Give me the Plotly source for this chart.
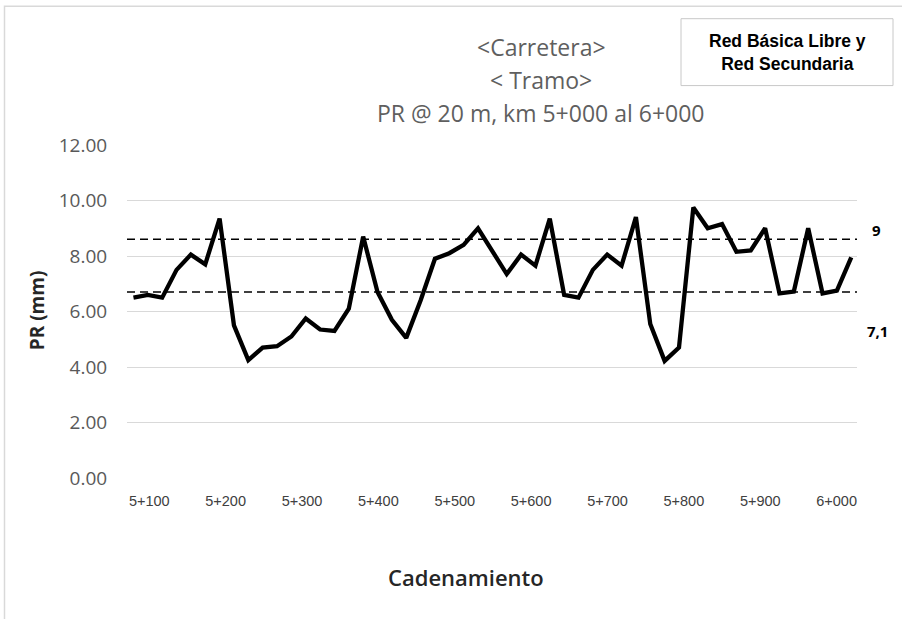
import plotly.graph_objects as go

# ---------------- data ----------------
chainage_m = [5000, 5020, 5040, 5060, 5080, 5100, 5120, 5140, 5160, 5180,
              5200, 5220, 5240, 5260, 5280, 5300, 5320, 5340, 5360, 5380,
              5400, 5420, 5440, 5460, 5480, 5500, 5520, 5540, 5560, 5580,
              5600, 5620, 5640, 5660, 5680, 5700, 5720, 5740, 5760, 5780,
              5800, 5820, 5840, 5860, 5880, 5900, 5920, 5940, 5960, 5980,
              6000]
pr_mm = [6.5, 6.6, 6.5, 7.5, 8.05, 7.7, 9.35, 5.5, 4.25, 4.7,
         4.75, 5.1, 5.75, 5.35, 5.3, 6.1, 8.7, 6.7, 5.7, 5.05,
         6.4, 7.9, 8.1, 8.4, 9.0, 8.2, 7.35, 8.05, 7.65, 9.35,
         6.6, 6.5, 7.5, 8.05, 7.65, 9.4, 5.55, 4.22, 4.7, 9.75,
         9.0, 9.15, 8.15, 8.2, 9.0, 6.65, 6.72, 9.0, 6.65, 6.75,
         7.95]
upper_limit = 8.6
lower_limit = 6.7
upper_label = "9"
lower_label = "7,1"
x_tick_labels = ["5+100", "5+200", "5+300", "5+400", "5+500",
                 "5+600", "5+700", "5+800", "5+900", "6+000"]
y_tick_values = [0, 2, 4, 6, 8, 10, 12]
title_lines = ["&lt;Carretera&gt;", "&lt; Tramo&gt;", "PR @ 20 m, km 5+000 al 6+000"]
legend_text = "Red Básica Libre y<br>Red Secundaria"
x_title = "Cadenamiento"
y_title = "PR (mm)"

# ---------------- layout geometry (pixels) ----------------
W, H = 902, 619
L, R, T, B = 127, 857, 144.5, 478
x_min, x_max = 4991, 6008


def px(xp):
    return (xp - L) / (R - L)


def py(yp):
    return (B - yp) / (B - T)


# x tick label positions (as placed on the original picture)
tick_pos = [5022 + 106.4 * k for k in range(len(x_tick_labels))]

fig = go.Figure()

# threshold dashed lines
fig.add_trace(go.Scatter(x=[x_min, x_max], y=[upper_limit, upper_limit], mode="lines",
                         line=dict(color="black", width=1.5, dash="8px,5px"),
                         hoverinfo="skip", showlegend=False))
fig.add_trace(go.Scatter(x=[x_min, x_max], y=[lower_limit, lower_limit], mode="lines",
                         line=dict(color="black", width=1.5, dash="8px,5px"),
                         hoverinfo="skip", showlegend=False, cliponaxis=False))

fig.add_trace(go.Scatter(x=chainage_m, y=pr_mm, mode="lines",
                         line=dict(color="black", width=4.3),
                         showlegend=False))

annotations = []
title_y = [46, 79, 112]
for txt, yy in zip(title_lines, title_y):
    annotations.append(dict(x=px(541), y=py(yy), xref="paper", yref="paper",
                            text=txt, showarrow=False, xanchor="center", yanchor="middle",
                            font=dict(family="Open Sans", size=23, color="#5f5f5f")))
annotations.append(dict(x=px(787), y=py(52), xref="paper", yref="paper",
                        text=legend_text, showarrow=False, xanchor="center", yanchor="middle",
                        font=dict(family="Liberation Sans", size=17.5, color="black", weight="bold")))
annotations.append(dict(x=px(876), y=py(230), xref="paper", yref="paper",
                        text=upper_label, showarrow=False, xanchor="center", yanchor="middle",
                        font=dict(family="Open Sans", size=15, color="black", weight="bold")))
annotations.append(dict(x=px(877), y=py(331), xref="paper", yref="paper",
                        text=lower_label, showarrow=False, xanchor="center", yanchor="middle",
                        font=dict(family="Open Sans", size=15, color="black", weight="bold")))
annotations.append(dict(x=px(37), y=py(310), xref="paper", yref="paper",
                        text=y_title, showarrow=False, textangle=-90,
                        xanchor="center", yanchor="middle",
                        font=dict(family="Open Sans", size=19, color="#262626", weight="bold")))
annotations.append(dict(x=px(466), y=py(577), xref="paper", yref="paper",
                        text=x_title, showarrow=False, xanchor="center", yanchor="middle",
                        font=dict(family="Open Sans", size=22, color="#262626", weight=600)))

shapes = [
    # outer chart border (left and top visible)
    dict(type="rect", xref="paper", yref="paper", x0=px(4.5), x1=px(W + 20), y0=py(H + 20), y1=py(5.5),
         line=dict(color="#d9d9d9", width=1.5), fillcolor="rgba(0,0,0,0)", layer="below"),
    # legend box
    dict(type="rect", xref="paper", yref="paper", x0=px(681), x1=px(893), y0=py(85), y1=py(18),
         line=dict(color="#c8c8c8", width=1), fillcolor="white", layer="below"),
]

fig.update_layout(
    width=W, height=H,
    margin=dict(l=L, r=W - R, t=T, b=H - B, pad=0),
    paper_bgcolor="white", plot_bgcolor="white",
    showlegend=False,
    annotations=annotations,
    shapes=shapes,
    xaxis=dict(range=[x_min, x_max], tickmode="array", tickvals=tick_pos, ticktext=x_tick_labels,
               showgrid=False, zeroline=False, showline=False,
               ticks="outside", ticklen=10, tickcolor="rgba(0,0,0,0)",
               tickfont=dict(family="Liberation Sans", size=14.5, color="#404040")),
    yaxis=dict(range=[0, 12], tickmode="array", tickvals=y_tick_values,
               ticktext=[f"{v:.2f}" for v in y_tick_values],
               showgrid=True, gridcolor="#d9d9d9", gridwidth=1, zeroline=False, showline=False,
               ticks="outside", ticklen=15, tickcolor="rgba(0,0,0,0)",
               tickfont=dict(family="Open Sans", size=19, color="#595959")),
)

fig.write_html("out.html", config={"displayModeBar": False},
               post_script="document.body.style.margin='0px';document.body.style.overflow='hidden';")
